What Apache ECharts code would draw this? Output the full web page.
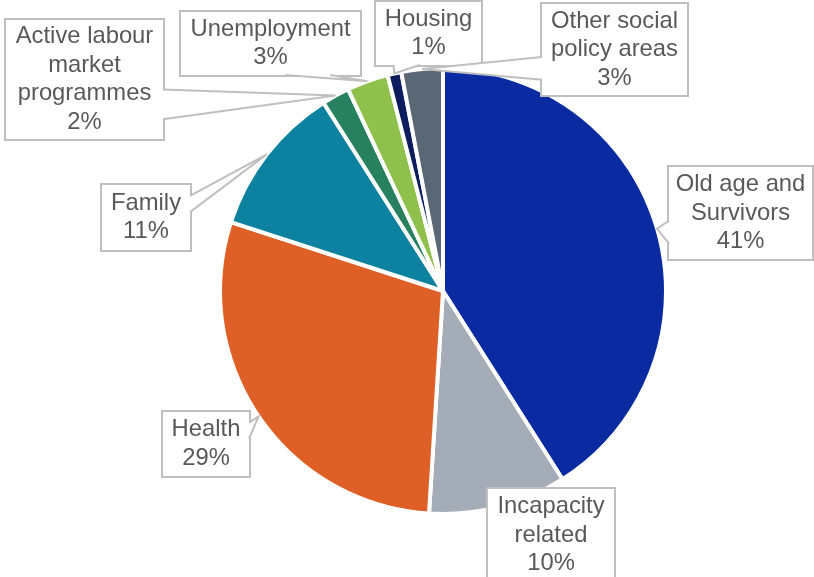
<!DOCTYPE html>
<html>
<head>
<meta charset="utf-8">
<script src="https://cdn.jsdelivr.net/npm/echarts@6/dist/echarts.min.js"></script>
<style>
  html, body { margin: 0; padding: 0; background: #ffffff; }
  #chart { width: 814px; height: 577px; }
</style>
</head>
<body>
<div id="chart"></div>
<script>
// Social protection expenditure by function (share of total, %)
const categories = [
  'Old age and\nSurvivors',
  'Incapacity\nrelated',
  'Health',
  'Family',
  'Active labour\nmarket\nprogrammes',
  'Unemployment',
  'Housing',
  'Other social\npolicy areas'
];
const shares = [41, 10, 29, 11, 2, 3, 1, 3];
const sliceColors = ['#0A2AA2', '#A4ADB7', '#DF6027', '#0D82A0', '#27805E', '#8FC04B', '#0C1C5F', '#5A6774'];

// Callout boxes for the slice labels: [left, top, width, height]
const calloutBoxes = [
  [669, 167, 143, 92],
  [488, 489, 126, 92],
  [163, 412, 86, 64],
  [102, 185, 88, 65],
  [6, 20, 157, 119],
  [181, 12, 179, 63],
  [376, 2, 105, 63],
  [542, 4, 145, 91]
];

const LINE_H = 28.5;
const TEXT_SHIFT = 2;
const BORDER = '#BFBFBF';

const chart = echarts.init(document.getElementById('chart'), null, { renderer: 'canvas' });

const pieData = categories.map(function (name, i) {
  const b = calloutBoxes[i];
  const lines = name.split('\n').length + 1;
  const padY = Math.max(TEXT_SHIFT, (b[3] - lines * LINE_H) / 2);
  return {
    name: name,
    value: shares[i],
    itemStyle: { color: sliceColors[i] },
    label: { width: b[2], padding: [padY + TEXT_SHIFT, 0, padY - TEXT_SHIFT, 0] }
  };
});

chart.setOption({
  animation: false,
  backgroundColor: '#ffffff',
  series: [{
    type: 'pie',
    center: [443, 291],
    radius: 223,
    startAngle: 90,
    clockwise: true,
    percentPrecision: 0,
    data: pieData,
    itemStyle: { borderColor: '#ffffff', borderWidth: 4 },
    emphasis: { disabled: true },
    labelLine: { show: false },
    label: {
      show: true,
      position: 'outside',
      formatter: '{b}\n{d}%',
      fontFamily: 'Liberation Sans, Arial, sans-serif',
      fontSize: 23.8,
      lineHeight: LINE_H,
      color: '#595959',
      align: 'center',
      backgroundColor: '#ffffff',
      borderColor: BORDER,
      borderWidth: 2
    },
    labelLayout: function (params) {
      const b = calloutBoxes[params.dataIndex];
      return {
        x: b[0] + b[2] / 2,
        y: b[1] + b[3] / 2,
        align: 'center',
        verticalAlign: 'middle',
        hideOverlap: false
      };
    }
  }]
});

// Wedge-shaped pointers from each label box to the middle of its slice's rim
function buildCallouts() {
  const data = chart.getModel().getSeriesByIndex(0).getData();
  const elements = [];
  data.each(function (i) {
    const L = data.getItemLayout(i);
    const mid = (L.startAngle + L.endAngle) / 2;
    const tip = [L.cx + L.r * Math.cos(mid), L.cy + L.r * Math.sin(mid)];
    const b = calloutBoxes[i];
    const left = b[0], top = b[1], w = b[2], h = b[3];
    if (tip[0] >= left && tip[0] <= left + w && tip[1] >= top && tip[1] <= top + h) return;
    const bcx = left + w / 2, bcy = top + h / 2;
    const dx = (tip[0] - bcx) / w, dy = (tip[1] - bcy) / h;
    let p1, p2, q1, q2;
    if (Math.abs(dx) > Math.abs(dy)) {
      const x = dx < 0 ? left : left + w;
      const inset = dx < 0 ? 2.5 : -2.5;
      const f = tip[1] > bcy ? [7 / 12, 10 / 12] : [2 / 12, 5 / 12];
      p1 = [x, top + h * f[0]]; p2 = [x, top + h * f[1]];
      q1 = [x + inset, p1[1] + 1]; q2 = [x + inset, p2[1] - 1];
    } else {
      const y = dy < 0 ? top : top + h;
      const inset = dy < 0 ? 2.5 : -2.5;
      const f = tip[0] > bcx ? [7 / 12, 10 / 12] : [2 / 12, 5 / 12];
      p1 = [left + w * f[0], y]; p2 = [left + w * f[1], y];
      q1 = [p1[0] + 1, y + inset]; q2 = [p2[0] - 1, y + inset];
    }
    elements.push({
      type: 'polygon', z: 100, silent: true,
      shape: { points: [tip, p1, q1, q2, p2] },
      style: { fill: '#ffffff', stroke: null }
    });
    elements.push({
      type: 'polyline', z: 101, silent: true,
      shape: { points: [p1, tip, p2] },
      style: { fill: null, stroke: BORDER, lineWidth: 2 }
    });
  });
  chart.setOption({ graphic: { elements: elements } });
}

buildCallouts();
</script>
</body>
</html>
